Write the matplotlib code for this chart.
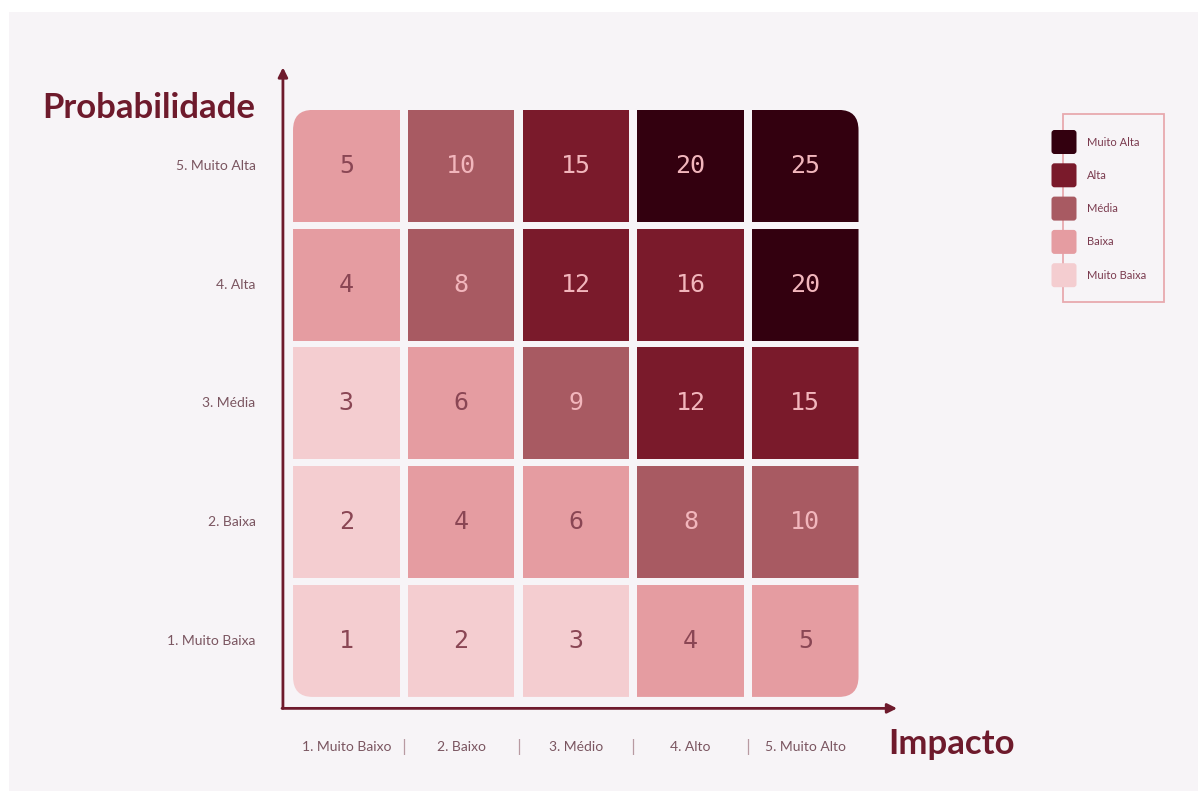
import matplotlib
matplotlib.use("Agg")
import matplotlib.pyplot as plt
from matplotlib.patches import Rectangle, FancyBboxPatch
import numpy as np

# dados da matriz de risco
impacto = ['1. Muito Baixo', '2. Baixo', '3. Médio', '4. Alto', '5. Muito Alto']
probabilidade = ['1. Muito Baixa', '2. Baixa', '3. Média', '4. Alta', '5. Muito Alta']
imp_vals = [1, 2, 3, 4, 5]
prob_vals = [1, 2, 3, 4, 5]

# categorias do nivel de risco (legenda, de cima para baixo)
niveis = ['Muito Alta', 'Alta', 'Média', 'Baixa', 'Muito Baixa']
cores = ['#33000f', '#7a1a2b', '#a85a62', '#e59ca1', '#f4cdd0']
limites = [20, 12, 8, 4, 1]  # valor minimo para cada nivel

fundo = '#f7f4f7'
vinho = '#6e1a2c'
cor_texto = '#7a5560'


def nivel_de(v):
    for i, lim in enumerate(limites):
        if v >= lim:
            return i
    return len(limites) - 1


fig = plt.figure(figsize=(11.98, 7.91), dpi=100)
fig.patch.set_facecolor('white')

# fundo cinza claro (com margem branca em cima e na esquerda)
bg = fig.add_axes([0, 0, 1, 1], zorder=-10)
bg.axis('off')
bg.add_patch(Rectangle((9 / 1198, 0), 1, 1 - 12 / 791, transform=bg.transAxes,
                       facecolor=fundo, edgecolor='none'))

ax = fig.add_axes([288.9 / 1198, (791 - 700.3) / 791, 573.75 / 1198, 593.75 / 791])
ax.set_xlim(0, 5)
ax.set_ylim(0, 5)
ax.axis('off')

gx, gy = 0.036, 0.0285
# caixa arredondada usada como recorte dos cantos externos
clip = FancyBboxPatch((gx, gy), 5 - 2 * gx, 5 - 2 * gy,
                      boxstyle='round,pad=0,rounding_size=0.17',
                      transform=ax.transData, facecolor='none', edgecolor='none')
ax.add_patch(clip)

for j, p in enumerate(prob_vals):
    for i, m in enumerate(imp_vals):
        v = p * m
        k = nivel_de(v)
        r = Rectangle((i + gx, j + gy), 1 - 2 * gx, 1 - 2 * gy,
                      facecolor=cores[k], edgecolor='none')
        ax.add_patch(r)
        r.set_clip_path(clip)
        tc = '#f2b6bc' if k <= 2 else '#8a4654'
        ax.text(i + 0.5, j + 0.5, str(v), ha='center', va='center',
                fontsize=18, color=tc, family='DejaVu Sans Mono')

# eixos com setas
seta = dict(arrowstyle='-|>', color=vinho, lw=2, mutation_scale=14, shrinkA=0, shrinkB=0)
ax.annotate('', xy=(-0.052, 5.33), xytext=(-0.052, -0.068), arrowprops=seta,
            annotation_clip=False)
ax.annotate('', xy=(5.3, -0.068), xytext=(-0.06, -0.068), arrowprops=seta,
            annotation_clip=False)

fam = ['Lato', 'DejaVu Sans']
for j, lab in enumerate(probabilidade):
    ax.text(-0.29, j + 0.5, lab, ha='right', va='center', fontsize=10,
            color=cor_texto, family=fam, clip_on=False)
for i, lab in enumerate(impacto):
    ax.text(i + 0.5, -0.39, lab, ha='center', va='center', fontsize=10,
            color=cor_texto, family=fam, clip_on=False)
    if i > 0:
        ax.text(i, -0.39, '|', ha='center', va='center', fontsize=11,
                color='#b89aa2', clip_on=False)

fig.text(42 / 1198, 1 - 108 / 791, 'Probabilidade', ha='left', va='center',
         fontsize=25, fontweight='bold', color=vinho, family='Lato')
fig.text(888 / 1198, 1 - 744 / 791, 'Impacto', ha='left', va='center',
         fontsize=25, fontweight='bold', color=vinho, family='Lato')

# legenda personalizada
lg = fig.add_axes([1040 / 1198, 1 - 305 / 791, 130 / 1198, 198 / 791])
lg.set_xlim(0, 130)
lg.set_ylim(198, 0)
lg.axis('off')
lg.add_patch(Rectangle((23, 7), 101, 188, facecolor='none', edgecolor='#e8a9ae', lw=1.3))
for n, (nome, c) in enumerate(zip(niveis, cores)):
    yc = 35 + n * 33.3
    lg.add_patch(FancyBboxPatch((11.5, yc - 12), 25, 24,
                                boxstyle='round,pad=0,rounding_size=3',
                                facecolor=c, edgecolor='none'))
    lg.text(47, yc, nome, ha='left', va='center', fontsize=8,
            color='#7a3a4e', family=fam)

plt.savefig('out.png', dpi=100, facecolor=fig.get_facecolor())
plt.close()
